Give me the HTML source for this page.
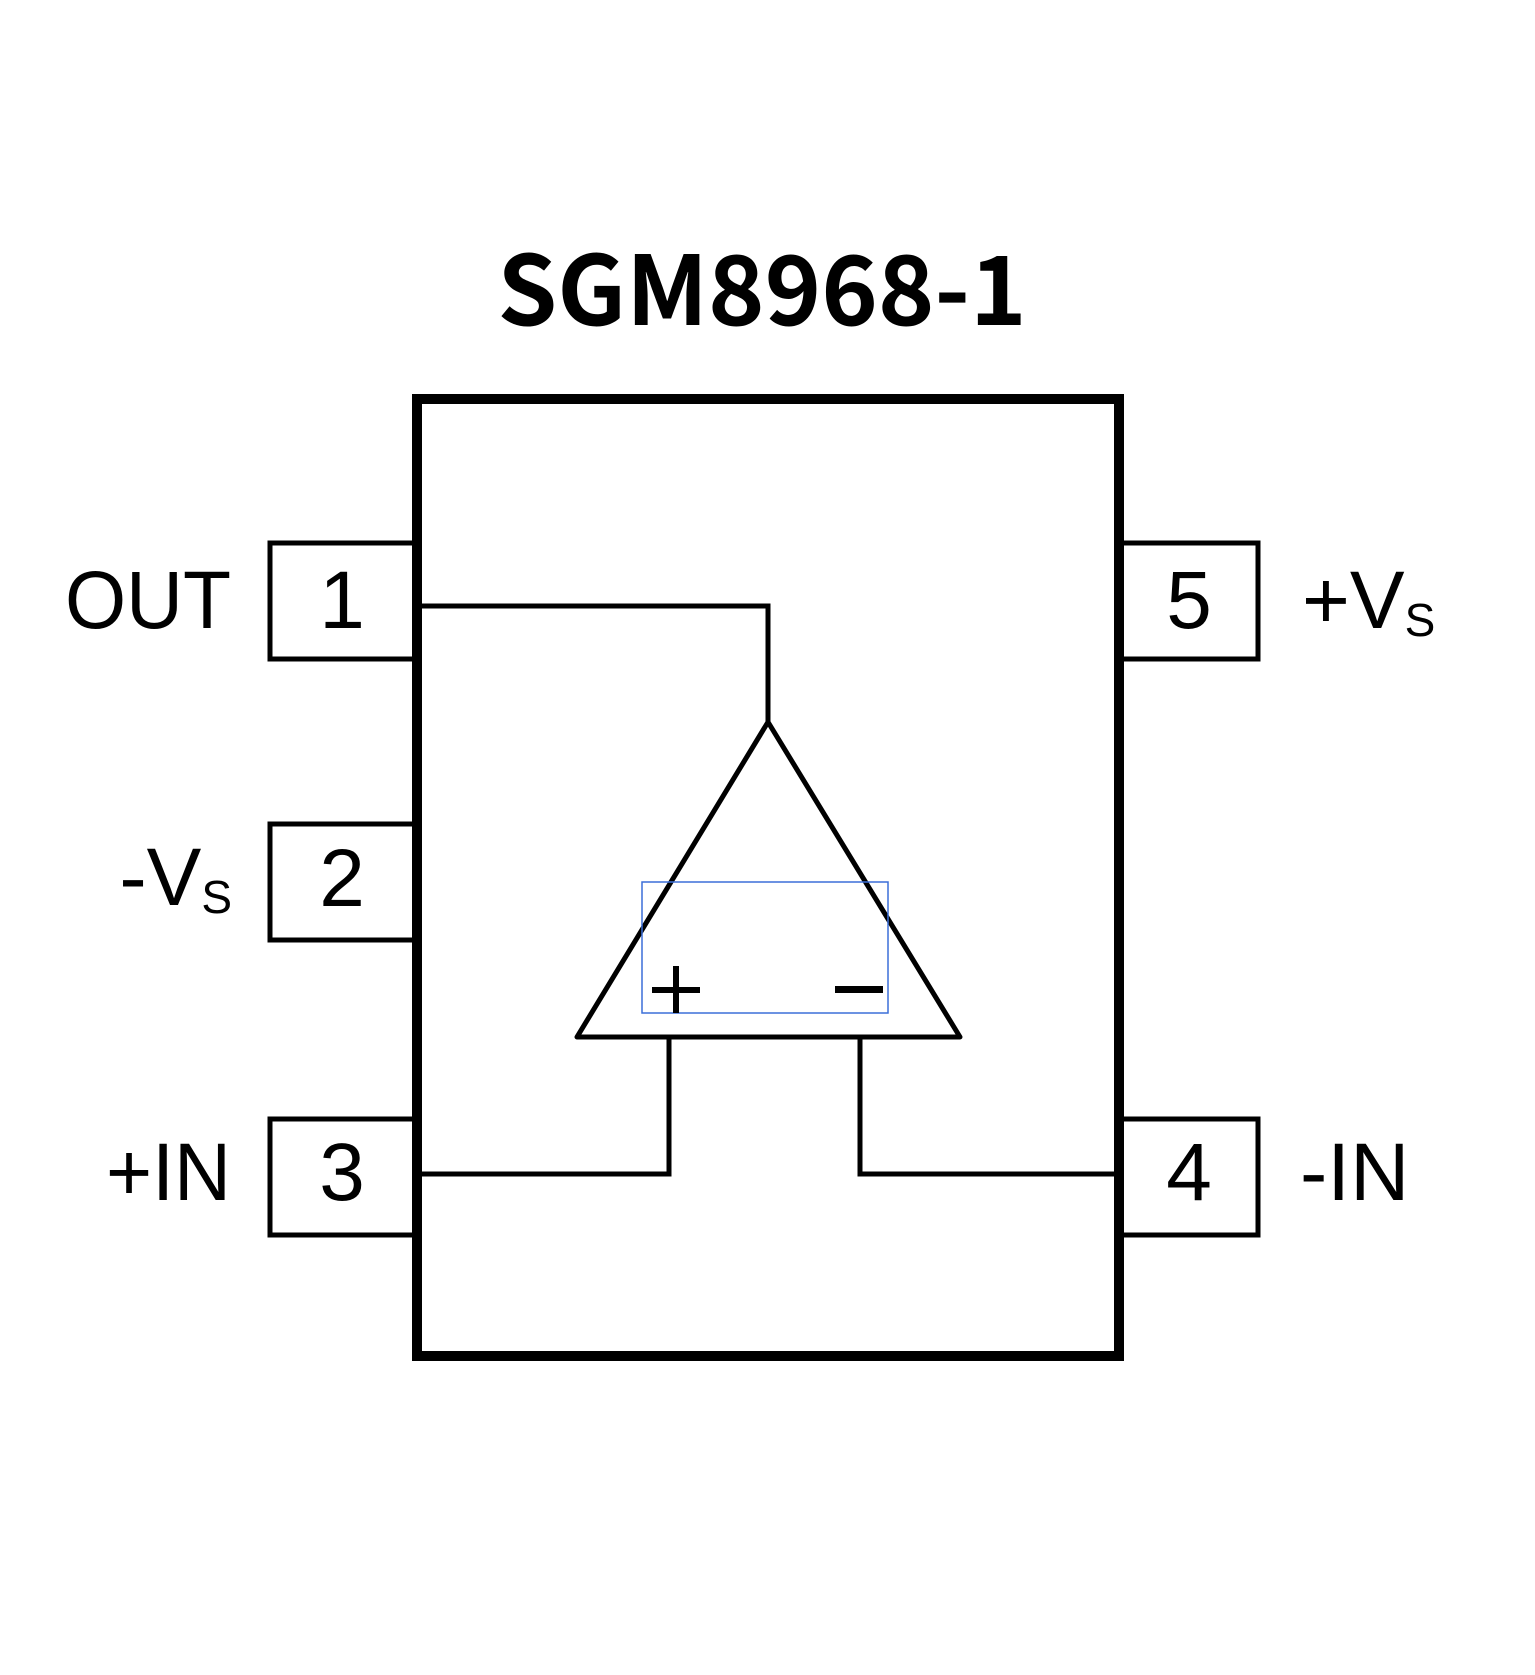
<!DOCTYPE html>
<html><head><meta charset="utf-8"><style>
html,body{margin:0;padding:0;background:#fff;}
svg{display:block;}
</style></head><body>
<svg width="1535" height="1675" viewBox="0 0 1535 1675" xmlns="http://www.w3.org/2000/svg">
<rect width="1535" height="1675" fill="#fff"/>
<text x="762" y="325" text-anchor="middle" font-family="'Noto Sans CJK SC', 'Liberation Sans', sans-serif" font-weight="bold" font-size="96" fill="#000">SGM8968-1</text>
<g fill="none" stroke="#000" stroke-width="5" stroke-linejoin="miter">
<rect x="270" y="543" width="147" height="116"/>
<rect x="270" y="824" width="147" height="116"/>
<rect x="270" y="1119" width="147" height="116"/>
<rect x="1120" y="543" width="138" height="116"/>
<rect x="1120" y="1119" width="138" height="116"/>
</g>
<rect x="417" y="399" width="702" height="957" fill="#fff" stroke="#000" stroke-width="10"/>
<g fill="none" stroke="#000" stroke-width="5">
<polyline points="422,606 768,606 768,722"/>
<polygon points="768,722 577,1037 960,1037" stroke-linejoin="round"/>
<polyline points="669,1037 669,1174 422,1174"/>
<polyline points="860,1037 860,1174 1115,1174"/>
</g>
<rect x="642" y="882" width="246" height="131" fill="none" stroke="#3b6fd8" stroke-width="1.5"/>
<rect x="652" y="987" width="48" height="6" fill="#000"/>
<rect x="673" y="966" width="6" height="47" fill="#000"/>
<rect x="835" y="986" width="48" height="7" fill="#000"/>
<g font-family="'Liberation Sans', sans-serif" font-size="82" fill="#000">
<text x="65" y="628" textLength="166" lengthAdjust="spacingAndGlyphs">OUT</text>
<text x="342" y="628" text-anchor="middle">1</text>
<text x="342" y="906" text-anchor="middle">2</text>
<text x="342" y="1200" text-anchor="middle">3</text>
<text x="1189" y="628" text-anchor="middle">5</text>
<text x="1189" y="1200" text-anchor="middle">4</text>
<text x="232" y="905" text-anchor="end">-V<tspan font-size="46" dy="8">S</tspan></text>
<text x="106" y="1200" textLength="125" lengthAdjust="spacingAndGlyphs">+IN</text>
<text x="1302" y="628">+V<tspan font-size="46" dy="8">S</tspan></text>
<text x="1300" y="1200">-IN</text>
</g>
</svg>
</body></html>
